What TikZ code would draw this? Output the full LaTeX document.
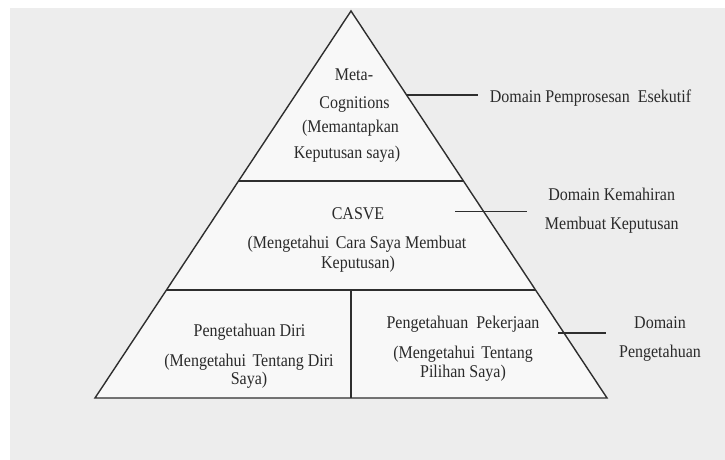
\documentclass[tikz,border=0pt]{standalone}
\usepackage{graphicx}
\usepackage{fontspec}
\setmainfont{Liberation Serif}
\definecolor{bg}{HTML}{EDEDED}
\definecolor{tri}{HTML}{F8F8F8}
\definecolor{ink}{HTML}{2E2E2E}
\definecolor{txt}{HTML}{2A2A2A}
\newcommand{\vsx}[1]{\scalebox{1}[1.12]{#1}}
\begin{document}
\begin{tikzpicture}[x=1pt,y=-1pt,
  lbl/.style={font=\fontsize{16}{18}\selectfont, text=txt, inner sep=0pt, text height=12pt, text depth=3.5pt},
  edgeline/.style={draw=ink, line width=1.4pt}]
\useasboundingbox (0,0) rectangle (725,460);
\fill[white] (0,0) rectangle (725,460);
\fill[bg] (10,8) rectangle (725,460);
% pyramid
\coordinate (A) at (351,11);
\coordinate (BL) at (95,398);
\coordinate (BR) at (607,398);
\coordinate (L1a) at (238.5,181);
\coordinate (L1b) at (463.5,181);
\coordinate (L2a) at (166.4,290);
\coordinate (L2b) at (535.6,290);
\coordinate (Da) at (351,290);
\coordinate (Db) at (351,398);
\filldraw[fill=tri, draw=ink, line width=1.4pt, line join=miter] (A) -- (BR) -- (BL) -- cycle;
\draw[edgeline] (L1a) -- (L1b);
\draw[edgeline] (L2a) -- (L2b);
\draw[edgeline] (Da) -- (Db);
% connectors
\coordinate (K1a) at (407,95);
\coordinate (K1b) at (478,95);
\coordinate (K2a) at (455,211.7);
\coordinate (K2b) at (527,211.7);
\coordinate (K3a) at (558,333);
\coordinate (K3b) at (606,333);
\draw[edgeline] (K1a) -- (K1b);
\draw[edgeline] (K2a) -- (K2b);
\draw[edgeline] (K3a) -- (K3b);
% top layer
\node[lbl] (m1) at (354,76) {\vsx{Meta-}};
\node[lbl] (m2) at (354.5,104) {\vsx{Cognitions}};
\node[lbl] (m3) at (350.5,128.5) {\vsx{(Memantapkan}};
\node[lbl] (m4) at (347,154) {\vsx{Keputusan saya)}};
% middle layer
\node[lbl] (c1) at (358,215) {\vsx{CASVE}};
\node[lbl] (c2) at (357,244) {\vsx{(Mengetahui\hspace{0.4em}Cara Saya Membuat}};
\node[lbl] (c3) at (358,264) {\vsx{Keputusan)}};
% bottom left
\node[lbl] (l1) at (249.5,332) {\vsx{Pengetahuan Diri}};
\node[lbl] (l2) at (249,362.5) {\vsx{(Mengetahui\hspace{0.4em}Tentang Diri}};
\node[lbl] (l3) at (249,380) {\vsx{Saya)}};
% bottom right
\node[lbl] (r1) at (463,324) {\vsx{Pengetahuan\hspace{0.5em}Pekerjaan}};
\node[lbl] (r2) at (463,354) {\vsx{(Mengetahui\hspace{0.4em}Tentang}};
\node[lbl] (r3) at (463,373) {\vsx{Pilihan Saya)}};
% domain labels
\node[lbl] (d1) at (590.5,98) {\vsx{Domain Pemprosesan\hspace{0.5em}Esekutif}};
\node[lbl] (d2) at (611.7,196) {\vsx{Domain Kemahiran}};
\node[lbl] (d3) at (611.8,225.7) {\vsx{Membuat Keputusan}};
\node[lbl] (d4) at (660,324) {\vsx{Domain}};
\node[lbl] (d5) at (660,353) {\vsx{Pengetahuan}};
\end{tikzpicture}
\end{document}
